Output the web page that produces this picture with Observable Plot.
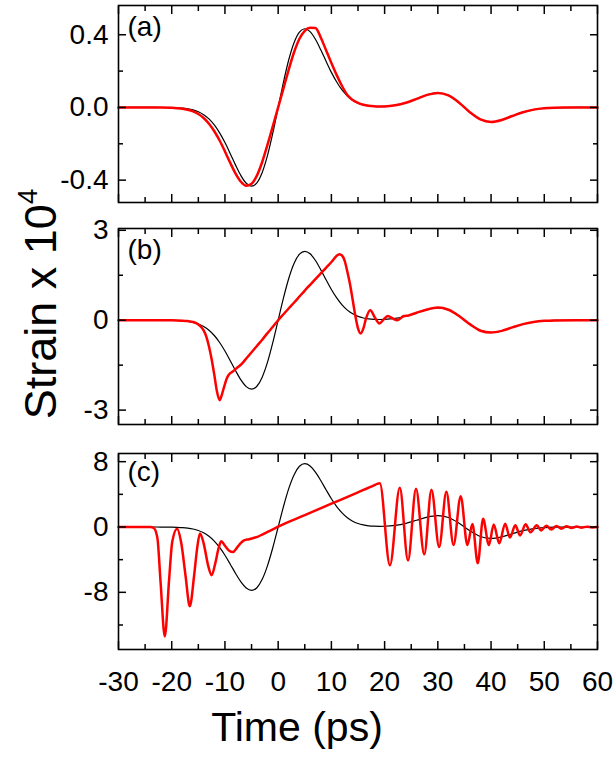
<!DOCTYPE html>
<html><head><meta charset="utf-8">
<script src="https://cdn.jsdelivr.net/npm/d3@7"></script>
<script src="https://cdn.jsdelivr.net/npm/@observablehq/plot@0.6"></script>
<style>
body{margin:0;background:#fff;}
#fig{position:relative;width:614px;height:758px;font-family:Arial,"Liberation Sans",sans-serif;color:#000;overflow:hidden;}
#fig svg{position:absolute;left:0;}
#ylab{position:absolute;left:40px;top:304px;transform:translate(-50%,-50%) rotate(-90deg);white-space:nowrap;font-size:45px;line-height:1;}
#ylab sup{font-size:0.62em;position:relative;top:-0.1em;vertical-align:super;line-height:0;}
#xlab{position:absolute;left:297px;top:707px;transform:translateX(-50%);white-space:nowrap;font-size:41px;line-height:1;}
</style></head><body><div id="fig"></div>
<script>
// ---- data ----
const tGrid = [-30,-24,-22,-20,-19,-18,-17,-16,-15,-14,-13,-12,-11,-10,-9,-8,-7,-6,-5,-4,-3,-2,-1,0,1,2,3,4,5,6,7,8,9,10,11,12,13,14,15,16,17,18,19,20,22,24,26,28,30,32,34,36,38,40,42,44,46,48,50,52,54,56,60];
const blackA = [0,0,-0.0002,-0.001,-0.002,-0.0039,-0.0075,-0.0136,-0.0238,-0.0398,-0.0632,-0.0961,-0.1399,-0.1931,-0.2542,-0.3174,-0.375,-0.417,-0.433,-0.4148,-0.3577,-0.2637,-0.1399,0,0.1399,0.2637,0.3577,0.4148,0.433,0.417,0.375,0.3174,0.2542,0.1931,0.1399,0.0961,0.0632,0.040,0.024,0.014,0.0082,0.0053,0.0045,0.0054,0.012,0.0258,0.047,0.0693,0.08,0.0661,0.0258,-0.0258,-0.0661,-0.08,-0.0693,-0.047,-0.0258,-0.0117,-0.0044,-0.0014,-0.0004,0,0];
const redA = [0,-0.0001,-0.0005,-0.002,-0.004,-0.007,-0.013,-0.022,-0.036,-0.058,-0.09,-0.131,-0.182,-0.242,-0.305,-0.364,-0.409,-0.431,-0.42,-0.375,-0.30,-0.205,-0.103,0,0.105,0.21,0.305,0.378,0.422,0.438,0.437,0.385,0.315,0.245,0.178,0.118,0.068,0.041,0.025,0.015,0.009,0.006,0.005,0.0055,0.012,0.026,0.047,0.069,0.08,0.066,0.026,-0.026,-0.066,-0.08,-0.069,-0.047,-0.026,-0.012,-0.0044,-0.0014,-0.0004,0,0];
const blackB = [0,0,-0.001,-0.005,-0.0106,-0.0209,-0.0398,-0.0725,-0.1265,-0.2116,-0.3358,-0.5106,-0.7429,-1.0258,-1.35,-1.686,-1.992,-2.215,-2.30,-2.203,-1.90,-1.401,-0.743,0,0.743,1.401,1.90,2.203,2.30,2.215,1.992,1.686,1.35,1.0258,0.7429,0.5106,0.3358,0.212,0.127,0.074,0.044,0.028,0.024,0.028,0.061,0.132,0.241,0.355,0.41,0.339,0.132,-0.132,-0.339,-0.41,-0.355,-0.241,-0.132,-0.060,-0.0226,-0.0071,-0.0019,0,0];
const tRedB = [-30,-24,-20,-18,-17,-16,-15,-14.5,-14,-13.5,-13,-12.5,-12,-11.5,-11,-10.6,-10.2,-9.6,-9.2,-8.6,-7.8,-6.8,-6,-5,-4,-3,-2,-1,0,1,2,3,4,5,6,7,8,9,10,10.5,11,11.5,12,12.5,13,13.5,14,14.5,15,15.5,16,16.5,17.3,18.2,19.0,19.8,20.6,21.5,22.4,23.6,24.5,26,28,30,32,34,36,38,40,42,44,46,48,50,52,56,60];
const redB = [0,0,-0.004,-0.015,-0.03,-0.06,-0.14,-0.22,-0.34,-0.55,-0.88,-1.3,-1.82,-2.38,-2.67,-2.5,-2.25,-1.92,-1.8,-1.72,-1.6,-1.45,-1.28,-1.07,-0.86,-0.65,-0.43,-0.22,0,0.2,0.4,0.59,0.79,0.99,1.18,1.37,1.56,1.75,1.94,2.05,2.15,2.2,2.16,1.98,1.62,1.2,0.68,0.15,-0.27,-0.44,-0.28,0.05,0.33,0.08,-0.11,0.02,0.14,0.06,0.0,0.14,0.16,0.25,0.36,0.42,0.35,0.14,-0.13,-0.35,-0.41,-0.355,-0.24,-0.132,-0.06,-0.022,-0.007,0,0];
const blackC = [0,0,-0.004,-0.017,-0.036,-0.071,-0.134,-0.244,-0.427,-0.714,-1.133,-1.723,-2.506,-3.461,-4.555,-5.688,-6.72,-7.473,-7.76,-7.434,-6.41,-4.726,-2.506,0,2.506,4.726,6.41,7.434,7.76,7.473,6.72,5.688,4.555,3.461,2.506,1.723,1.133,0.715,0.43,0.25,0.147,0.095,0.080,0.094,0.208,0.452,0.822,1.212,1.40,1.156,0.452,-0.452,-1.156,-1.40,-1.212,-0.822,-0.452,-0.204,-0.077,-0.024,-0.0064,0,0];
const tRedC = [-30,-24,-23.4,-22.7,-22.1,-21.3,-20.5,-19.9,-19.0,-18.2,-17.4,-16.6,-15.8,-15.2,-14.7,-14.0,-13.2,-12.5,-11.8,-11.2,-10.7,-10.0,-9.2,-8.5,-7.7,-7.0,-6.4,-5.5,-4.5,-3.9,-3.0,-2.0,-1.0,0,5,10,15,18,18.6,19.1,21.0,22.85,24.4,25.9,27.45,28.8,30.25,31.6,32.95,34.3,35.55,36.5,37.5,38.5,39.6,40.5,41.55,42.65,43.55,44.55,45.45,46.5,47.4,48.6,49.4,50.4,51.3,52.3,53.2,54.2,55.1,56.1,57.0,58.0,59.0,60];
const redC = [0,0,-0.1,-1.3,-6.7,-13.4,-6.5,-1.8,-0.2,-2.0,-6.0,-9.7,-6.0,-2.5,-0.8,-2.0,-4.6,-5.9,-4.4,-2.6,-1.75,-2.3,-2.9,-3.06,-2.5,-1.95,-1.65,-1.5,-1.32,-1.2,-0.92,-0.6,-0.28,0.05,1.45,2.85,4.25,5.1,5.28,5.35,-4.69,4.8,-4.1,4.68,-3.35,4.55,-2.45,4.33,-2.2,3.78,-2.2,0.37,-4.45,1.0,-2.2,0.31,-2.0,0.4,-1.3,0.2,-1.05,0.33,-0.65,0.2,-0.42,0.15,-0.3,0.12,-0.2,0.08,-0.12,0.06,-0.08,0.04,-0.05,0];

const xTicks = [-30,-20,-10,0,10,20,30,40,50,60];
const xTickLabels = ["-30","-20","-10","0","10","20","30","40","50","60"];
const xMinorTicks = [-25,-15,-5,5,15,25,35,45,55];
const panelLabels = ["(a)","(b)","(c)"];
const yTicksA = [-0.4,0,0.4], yMinorA = [-0.2,0.2], yTickLabelsA = ["-0.4","0.0","0.4"];
const yTicksB = [-3,0,3], yMinorB = [-1.5,1.5], yTickLabelsB = ["-3","0","3"];
const yTicksC = [-8,0,8], yMinorC = [-12,-4,4], yTickLabelsC = ["-8","0","8"];
const yDomainA = [-0.523,0.561], yDomainB = [-3.48,3.06], yDomainC = [-15,9];
const yAxisTitle = "Strain x 10", yAxisExp = "4";
const xAxisTitle = "Time (ps)";

// ---- drawing ----
const rows = (t, v) => t.map((x, i) => ({t: x, v: v[i]}));
const fig = document.getElementById("fig");
const FS = 28;

function panel(o) {
  const yfmt = d => o.tickLabels[o.ticks.indexOf(d)];
  const xfmt = d => xTickLabels[xTicks.indexOf(d)];
  const tk = {strokeWidth: 1.5, tickFormat: () => "", label: null};
  const marks = [
    Plot.line(rows(tGrid, o.black), {x: "t", y: "v", stroke: "black", strokeWidth: 1.2, curve: "monotone-x"}),
    Plot.line(rows(o.tRed, o.red), {x: "t", y: "v", stroke: "#ff0000", strokeWidth: 2.5, curve: "monotone-x"}),
    Plot.axisY(o.ticks, {anchor: "left", tickSize: 8, dx: 8, ...tk}),
    Plot.axisY(o.minor, {anchor: "left", tickSize: 5, dx: 5, ...tk}),
    Plot.axisY(o.ticks, {anchor: "right", tickSize: 8, dx: -8, ...tk}),
    Plot.axisY(o.minor, {anchor: "right", tickSize: 5, dx: -5, ...tk}),
    Plot.axisX(xTicks, {anchor: "bottom", tickSize: 8, dy: -8, ...tk}),
    Plot.axisX(xMinorTicks, {anchor: "bottom", tickSize: 5, dy: -5, ...tk}),
    Plot.axisX(xTicks, {anchor: "top", tickSize: 8, dy: 8, ...tk}),
    Plot.axisX(xMinorTicks, {anchor: "top", tickSize: 5, dy: 5, ...tk}),
    Plot.axisY(o.ticks, {anchor: "left", tickSize: 0, tickPadding: 10, tickFormat: yfmt, fontSize: FS, label: null}),
    Plot.frame({stroke: "black", strokeWidth: 1.6}),
    Plot.text([o.label], {text: d => d, frameAnchor: "top-left", dx: 9, dy: o.labelDy, fontSize: FS, textAnchor: "start"})
  ];
  if (o.showX) marks.push(Plot.axisX(xTicks, {anchor: "bottom", tickSize: 0, tickPadding: 22, tickFormat: xfmt, fontSize: FS, label: null}));
  const svg = Plot.plot({
    width: 614, height: o.height,
    marginLeft: 118, marginRight: 17, marginTop: o.mt, marginBottom: o.mb,
    x: {domain: [-30, 60]},
    y: {domain: o.domain},
    style: {background: "transparent", fontFamily: "Arial, 'Liberation Sans', sans-serif", fontSize: FS + "px", color: "black", overflow: "visible"},
    marks
  });
  svg.style.top = o.top + "px";
  fig.appendChild(svg);
}

panel({label: panelLabels[0], black: blackA, red: redA, tRed: tGrid, domain: yDomainA, ticks: yTicksA, minor: yMinorA, tickLabels: yTickLabelsA, top: 0, height: 210, mt: 5, mb: 8, labelDy: 11, showX: false});
panel({label: panelLabels[1], black: blackB, red: redB, tRed: tRedB, domain: yDomainB, ticks: yTicksB, minor: yMinorB, tickLabels: yTickLabelsB, top: 220, height: 210, mt: 8, mb: 6, labelDy: 11, showX: false});
panel({label: panelLabels[2], black: blackC, red: redC, tRed: tRedC, domain: yDomainC, ticks: yTicksC, minor: yMinorC, tickLabels: yTickLabelsC, top: 445, height: 313, mt: 8, mb: 109, labelDy: 8, showX: true});

const yl = document.createElement("div");
yl.id = "ylab";
yl.append(yAxisTitle);
const sup = document.createElement("sup"); sup.textContent = yAxisExp; yl.append(sup);
fig.appendChild(yl);
const xl = document.createElement("div");
xl.id = "xlab"; xl.textContent = xAxisTitle;
fig.appendChild(xl);
</script></body></html>
